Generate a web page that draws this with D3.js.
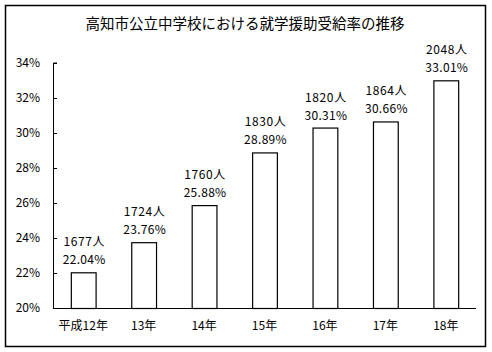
<!DOCTYPE html>
<html lang="ja">
<head>
  <meta charset="UTF-8">
  <title>高知市公立中学校における就学援助受給率の推移</title>
  <script src="https://d3js.org/d3.v7.min.js"></script>
  <style>
    body {
      margin: 0;
      background: #fff;
      font-family: "Noto Sans CJK JP", "Noto Sans", sans-serif;
    }
  </style>
</head>
<body>
  <div id="chart"></div>

  <script>
    // データ
    const years = ["平成12年", "13年", "14年", "15年", "16年", "17年", "18年"];
    const rates = [22.04, 23.76, 25.88, 28.89, 30.31, 30.66, 33.01];
    const counts = [1677, 1724, 1760, 1830, 1820, 1864, 2048];
    const yTicks = [20, 22, 24, 26, 28, 30, 32, 34];

    const W = 492, H = 352;
    const plot = {left: 53, right: 476, top: 63, bottom: 308};

    const svg = d3.select("#chart")
                  .append("svg")
                  .attr("width", W)
                  .attr("height", H);

    // 外枠
    svg.append("rect")
       .attr("x", 5.5).attr("y", 5.5)
       .attr("width", 480).attr("height", 341)
       .attr("fill", "#fff")
       .attr("stroke", "#000")
       .attr("stroke-width", 1.5);

    svg.append("text")
       .attr("x", 245)
       .attr("y", 29)
       .attr("text-anchor", "middle")
       .style("font-size", "14.5px")
       .text("高知市公立中学校における就学援助受給率の推移");

    const x = d3.scaleBand()
                .domain(years)
                .range([plot.left, plot.right])
                .paddingInner(0.59)
                .paddingOuter(0.295);

    const y = d3.scaleLinear()
                .domain([20, 34])
                .range([plot.bottom, plot.top]);

    // y軸 (目盛りは内側)
    const yAxis = svg.append("g")
       .attr("transform", `translate(${plot.left},0)`)
       .call(d3.axisRight(y).tickValues(yTicks).tickSize(4).tickFormat(d => d + "%"));
    yAxis.select(".domain").attr("d", `M4,${plot.top}H0.5V${plot.bottom}`);
    yAxis.selectAll("text")
         .attr("x", -13)
         .attr("text-anchor", "end")
         .style("font-size", "12px")
         .style("font-family", "'Noto Sans CJK JP', sans-serif");

    // x軸
    const xAxis = svg.append("g")
       .attr("transform", `translate(0,${plot.bottom})`)
       .call(d3.axisBottom(x).tickSize(0).tickPadding(13));
    xAxis.select(".domain").attr("d", `M${plot.left},0.5H${plot.right}`);
    xAxis.selectAll("text")
         .style("font-size", "12px")
         .style("font-family", "'Noto Sans CJK JP', sans-serif");

    const data = years.map((d, i) => ({year: d, rate: rates[i], count: counts[i]}));

    svg.selectAll(".bar")
       .data(data)
       .enter()
       .append("rect")
       .attr("class", "bar")
       .attr("x", d => x(d.year) + 0.5)
       .attr("y", d => y(d.rate) + 0.5)
       .attr("width", x.bandwidth())
       .attr("height", d => plot.bottom - y(d.rate))
       .attr("fill", "#fff")
       .attr("stroke", "#000")
       .attr("stroke-width", 1.2);

    // ラベル
    svg.selectAll(".count")
       .data(data)
       .enter()
       .append("text")
       .attr("x", d => x(d.year) + x.bandwidth() / 2 + 1)
       .attr("y", d => y(d.rate) - 26)
       .attr("text-anchor", "middle")
       .style("font-size", "12px")
       .style("letter-spacing", "0.6px")
       .text(d => d.count + "人");

    svg.selectAll(".rate")
       .data(data)
       .enter()
       .append("text")
       .attr("x", d => x(d.year) + x.bandwidth() / 2 + 1)
       .attr("y", d => y(d.rate) - 8)
       .attr("text-anchor", "middle")
       .style("font-size", "12px")
       .style("letter-spacing", "0.3px")
       .text(d => d.rate.toFixed(2) + "%");
  </script>
</body>
</html>
